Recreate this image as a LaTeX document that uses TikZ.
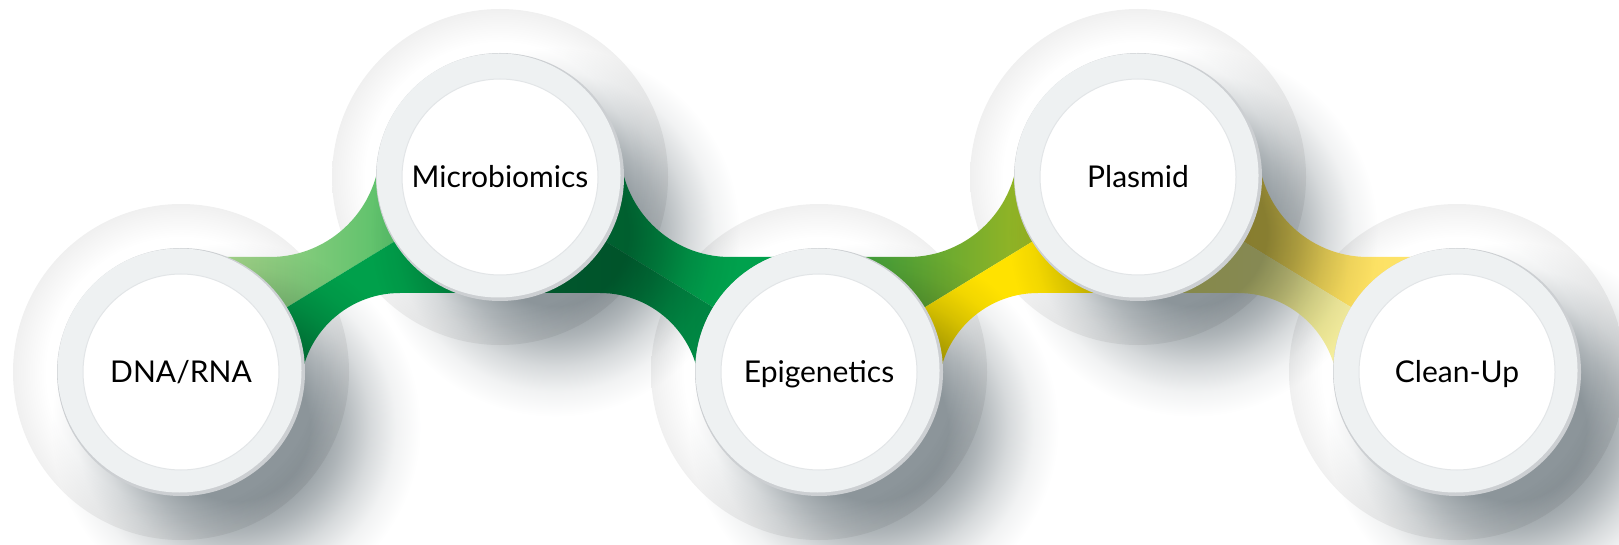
\documentclass[tikz,border=0pt]{standalone}
\usepackage{fontspec}
\setmainfont{Lato}
\usetikzlibrary{calc}

% colours
\definecolor{ringgray}{HTML}{EEF1F2}
\definecolor{ringedge}{HTML}{CCCFD2}
\definecolor{innerline}{HTML}{E2E5E7}
\definecolor{halogray}{HTML}{F0F0F0}
\definecolor{shadowgray}{HTML}{8C959A}
\definecolor{lightgreen}{HTML}{BADA93}
\definecolor{softgreen}{HTML}{8ACF7C}
\definecolor{midgreen}{HTML}{27B354}
\definecolor{brightgreen}{HTML}{00A04B}
\definecolor{leafgreen}{HTML}{00A852}
\definecolor{grassgreen}{HTML}{009F4B}
\definecolor{deepgreen}{HTML}{009A4C}
\definecolor{darkgreen}{HTML}{007F3F}
\definecolor{olivegreen}{HTML}{2A9A42}
\definecolor{limeolive}{HTML}{D2C414}
\definecolor{sunyellow}{HTML}{FFE200}
\definecolor{gold}{HTML}{F5CF3C}
\definecolor{paleyellow}{HTML}{FFE772}
\definecolor{khaki}{HTML}{F5EA70}
\definecolor{palekhaki}{HTML}{F4EFB8}

\pgfdeclareradialshading{castshadow}{\pgfpoint{0bp}{0bp}}{%
  color(0bp)=(shadowgray); color(10bp)=(shadowgray);
  color(14.2bp)=(shadowgray!70!white); color(18.2bp)=(shadowgray!35!white);
  color(21.6bp)=(shadowgray!12!white); color(25bp)=(white); color(50bp)=(white)}
\pgfdeclareradialshading{halo}{\pgfpoint{0bp}{0bp}}{%
  color(0bp)=(white); color(20bp)=(white); color(25bp)=(halogray);
  color(50bp)=(halogray)}

\tikzset{
  ringlabel/.style={circle, fill=white, draw=innerline, line width=1pt,
    minimum size=196pt, inner sep=0pt, text=black,
    font=\fontsize{30}{36}\selectfont, text height=21pt, text depth=0pt},
}

\begin{document}
\begin{tikzpicture}[x=1pt,y=1pt]
  \useasboundingbox (0,0) rectangle (1619,544);
  % centres of the five rings
  \coordinate (c1) at (181,172);
  \coordinate (c2) at (500,367);
  \coordinate (c3) at (819,172);
  \coordinate (c4) at (1138,367);
  \coordinate (c5) at (1457,172);
  \coordinate (hi) at (0,600);
  \coordinate (lo) at (0,-60);

  % soft halos
  \foreach \c in {c1,c2,c3,c4,c5}
    \shade[shading=halo] (\c) circle (168);

  % ribbon
  \begin{scope}
    \clip (c1) -- (181,287) -- (270,287) arc[start angle=270,end angle=360,radius=110]
      -- (c2) -- (620,397) arc[start angle=180,end angle=270,radius=110]
      -- (908,287) arc[start angle=270,end angle=360,radius=110]
      -- (c4) -- (1258,397) arc[start angle=180,end angle=270,radius=110]
      -- (1457,287) -- (c5) -- (1338,151) arc[start angle=0,end angle=90,radius=100]
      -- (1038,251) arc[start angle=90,end angle=180,radius=100]
      -- (c3) -- (700,151) arc[start angle=0,end angle=90,radius=100]
      -- (400,251) arc[start angle=90,end angle=180,radius=100] -- cycle;
    % DNA/RNA - Microbiomics
    \shade[left color=lightgreen,middle color=softgreen,right color=midgreen]
      (c1) -- (c2) -- (c2 |- hi) -- (c1 |- hi) -- cycle;
    \fill[brightgreen] (c1) -- (c2) -- (c2 |- lo) -- (c1 |- lo) -- cycle;
    % Microbiomics - Epigenetics
    \shade[left color=leafgreen,right color=grassgreen]
      (c2) -- (c3) -- (c3 |- hi) -- (c2 |- hi) -- cycle;
    \shade[left color=deepgreen,right color=darkgreen]
      (c2) -- (c3) -- (c3 |- lo) -- (c2 |- lo) -- cycle;
    % Epigenetics - Plasmid
    \shade[left color=olivegreen,right color=limeolive]
      (c3) -- (c4) -- (c4 |- hi) -- (c3 |- hi) -- cycle;
    \fill[sunyellow] (c3) -- (c4) -- (c4 |- lo) -- (c3 |- lo) -- cycle;
    % Plasmid - Clean-Up
    \shade[left color=gold,right color=paleyellow]
      (c4) -- (c5) -- (c5 |- hi) -- (c4 |- hi) -- cycle;
    \shade[left color=khaki,right color=palekhaki]
      (c4) -- (c5) -- (c5 |- lo) -- (c4 |- lo) -- cycle;
  \end{scope}

  % cast shadows
  \begin{scope}[blend mode=multiply]
    \foreach \c in {c1,c2,c3,c4,c5}
      \shade[shading=castshadow] ($(\c)+(55,-55)$) circle (185);
  \end{scope}

  % rings
  \foreach \c in {c1,c2,c3,c4,c5}{
    \fill[ringedge] (\c) circle (124);
    \fill[ringgray] ($(\c)+(-1.5,1.5)$) circle (122);
  }
  \node[ringlabel] (dna) at (c1) {DNA/RNA};
  \node[ringlabel] (micro) at (c2) {Microbiomics};
  \node[ringlabel] (epi) at (c3) {Epigenetics};
  \node[ringlabel] (plasmid) at (c4) {Plasmid};
  \node[ringlabel] (cleanup) at (c5) {Clean-Up};
\end{tikzpicture}
\end{document}
